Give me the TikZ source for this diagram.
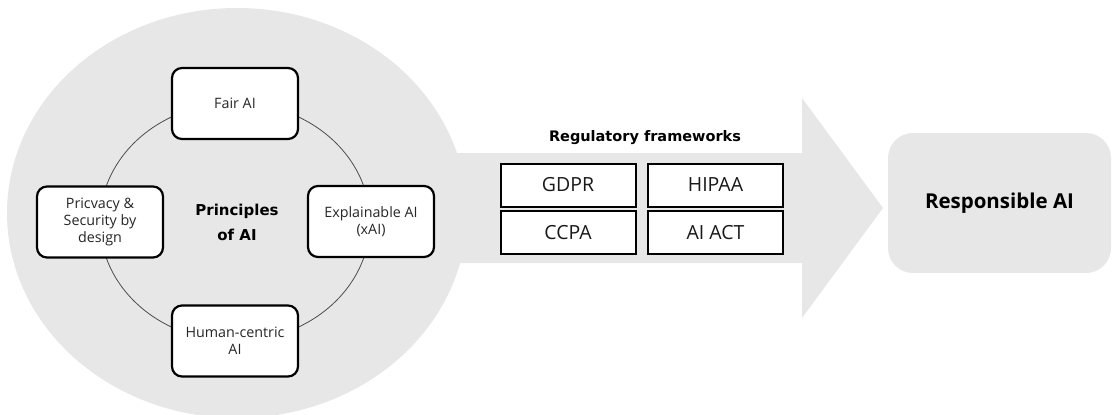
\documentclass[tikz,border=0pt]{standalone}
\usepackage{fontspec}
\setmainfont{Open Sans}
\newfontfamily\titlefont{DejaVu Sans}
\definecolor{bggray}{HTML}{E7E7E7}
\tikzset{
  x=1pt, y=-1pt,
  principle/.style={draw=black, line width=2.2pt, fill=white, rounded corners=10pt,
    minimum width=126pt, minimum height=71pt, align=center, inner sep=2pt,
    font=\fontsize{14.3}{17}\selectfont, text=black!85},
  regbox/.style={draw=black, line width=2pt, fill=white,
    minimum width=135pt, minimum height=43pt, font=\fontsize{19.5}{22}\selectfont, text=black!90},
}
\begin{document}
\begin{tikzpicture}
\useasboundingbox (0,0) rectangle (1112,415);
% big background circle
\fill[bggray] (237,213) ellipse [x radius=230, y radius=205];
% arrow
\fill[bggray] (440,153) -- (802,153) -- (802,98) -- (883,208) -- (802,318) -- (802,263) -- (440,263) -- cycle;
% ring
\draw[black!70, line width=0.8pt] (235,222) ellipse [x radius=135, y radius=119];
% principle boxes
\node[principle] (fair) at (235,103.5) {Fair AI};
\node[principle] (privacy) at (100,222) {Pricvacy \&\\Security by\\design};
\node[principle] (xai) at (371,221.5) {Explainable AI\\(xAI)};
\node[principle] (human) at (235,341) {Human-centric\\AI};
\node[align=center, font=\titlefont\bfseries\fontsize{15}{25}\selectfont] (principles) at (237,222) {Principles\\of AI};
% regulatory
\node[font=\titlefont\bfseries\fontsize{14.5}{16}\selectfont] (regtitle) at (645,138) {Regulatory frameworks};
\node[regbox] (gdpr) at (568,185) {GDPR};
\node[regbox] (hipaa) at (715.5,185) {HIPAA};
\node[regbox] (ccpa) at (568,232.5) {CCPA};
\node[regbox] (aiact) at (715.5,232.5) {AI ACT};
% responsible AI
\node[fill=bggray, rounded corners=25pt, minimum width=223pt, minimum height=140pt,
  font=\bfseries\fontsize{20.5}{22}\selectfont] (resp) at (999.5,203) {Responsible AI};
\end{tikzpicture}
\end{document}
